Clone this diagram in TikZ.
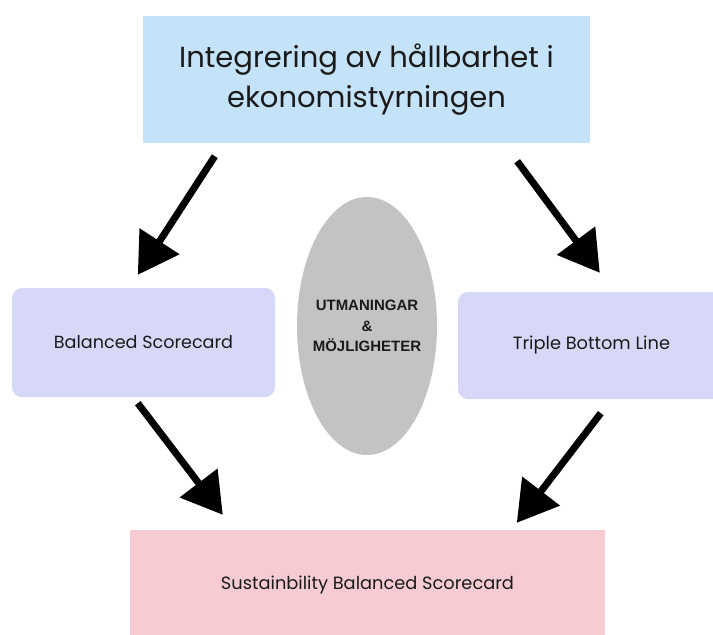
\documentclass[tikz,border=0pt]{standalone}
\usepackage{fontspec}
\setmainfont{Poppins}
\newfontfamily\boldsans{Liberation Sans}
\usetikzlibrary{arrows.meta,positioning,shapes.geometric}
\definecolor{skyblue}{HTML}{C5E3F8}
\definecolor{lavender}{HTML}{D7D8F8}
\definecolor{stonegray}{HTML}{C4C3C2}
\definecolor{softpink}{HTML}{F6CCD2}
\definecolor{inkblack}{HTML}{1A1A1A}
\begin{document}
\begin{tikzpicture}[x=1pt,y=-1pt,
 panel/.style={inner sep=0pt,align=center,text=inkblack},
 flow/.style={line width=7pt,-{Triangle[length=40pt,width=46pt]}}]
\clip (0,0) rectangle (713,635);
\fill[white] (0,0) rectangle (713,635);
\node[panel,fill=skyblue,minimum width=447pt,minimum height=127pt,font=\fontsize{29}{40}\selectfont] (integ) at (366.5,79.5) {Integrering av hållbarhet i\\ekonomistyrningen};
\node[panel,fill=lavender,rounded corners=10pt,minimum width=263pt,minimum height=109pt,font=\fontsize{17.6}{21}\selectfont] (bsc) at (143.5,342.5) {Balanced Scorecard};
\node[panel,fill=lavender,rounded corners=10pt,minimum width=267pt,minimum height=107pt,font=\fontsize{17.8}{21}\selectfont] (tbl) at (591.5,345.5) {Triple Bottom Line};
\node[panel,ellipse,fill=stonegray,inner xsep=-20pt,minimum width=140pt,minimum height=258pt,font=\boldsans\bfseries\fontsize{15}{20.5}\selectfont] (utm) at (367,326) {UTMANINGAR\\\&\\MÖJLIGHETER};
\node[panel,fill=softpink,minimum width=475pt,minimum height=110pt,font=\fontsize{17.8}{21}\selectfont] (sbsc) at (367.5,585) {Sustainbility Balanced Scorecard};
% pilar
\draw[flow] ([shift={(72,13)}]integ.south west) -- ([shift={(126,-13)}]bsc.north west);
\draw[flow] ([shift={(-73,18)}]integ.south east) -- ([shift={(142,-19)}]tbl.north west);
\draw[flow] ([shift={(126,6)}]bsc.south west) -- ([shift={(93,-15)}]sbsc.north west);
\draw[flow] ([shift={(143,14)}]tbl.south west) -- ([shift={(387,-7)}]sbsc.north west);
\end{tikzpicture}
\end{document}
